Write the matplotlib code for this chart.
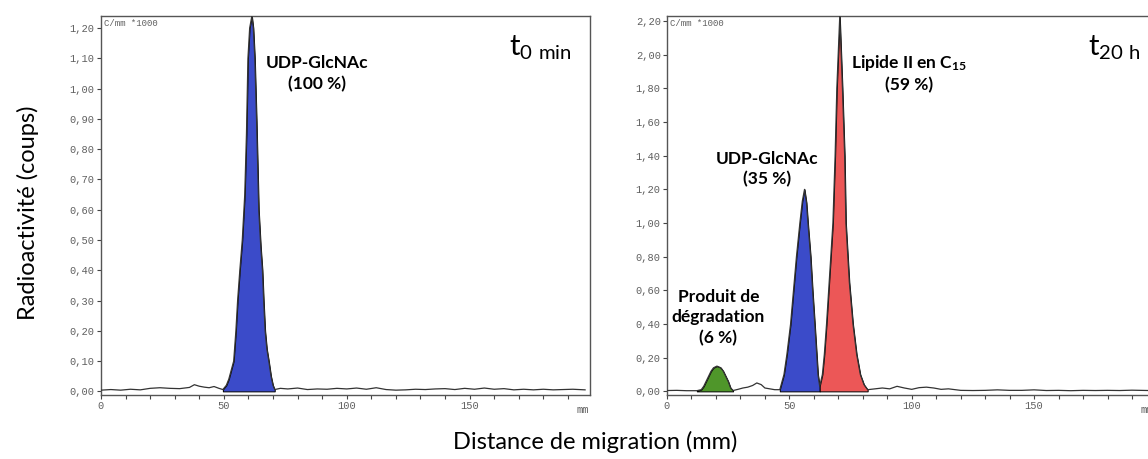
import matplotlib
matplotlib.use("Agg")
import matplotlib.pyplot as plt
import numpy as np
from matplotlib.ticker import FixedLocator, FuncFormatter

plt.rcParams['font.family'] = ['Lato', 'DejaVu Sans']
plt.rcParams['mathtext.fontset'] = 'custom'
plt.rcParams['mathtext.rm'] = 'Lato'
plt.rcParams['mathtext.bf'] = 'Lato:bold'

# ---- t0 min trace (mm, C/mm *1000)
t0_x = [0, 4, 8, 12, 16, 20, 24, 28, 32, 36, 38, 40, 42, 44, 46, 48,
        49.6, 51, 52, 53, 54, 54.9, 55.6, 56.5, 57.5, 58.5, 59.2, 59.8, 60.5, 61.4,
        62.0, 62.6, 63.3, 64.2, 65.0, 65.7, 66.2, 66.8, 67.5, 68.3, 69.2, 70.0, 70.7,
        73, 76, 80, 84, 88, 92, 96, 100, 104, 108, 112, 116, 120, 124, 128, 132,
        136, 140, 144, 148, 152, 156, 160, 164, 168, 172, 176, 180, 184, 188, 192, 197]
t0_y = [0.004, 0.006, 0.004, 0.007, 0.005, 0.010, 0.012, 0.010, 0.009, 0.013, 0.022, 0.017, 0.014, 0.012, 0.016, 0.010,
        0.006, 0.02, 0.04, 0.07, 0.10, 0.20, 0.30, 0.40, 0.50, 0.65, 0.85, 1.10, 1.20, 1.24,
        1.20, 1.10, 0.90, 0.60, 0.48, 0.40, 0.30, 0.20, 0.14, 0.10, 0.05, 0.02, 0.006,
        0.010, 0.008, 0.011, 0.006, 0.008, 0.007, 0.010, 0.008, 0.011, 0.007, 0.012, 0.006, 0.004, 0.005, 0.007, 0.006,
        0.008, 0.009, 0.006, 0.010, 0.007, 0.011, 0.007, 0.009, 0.005, 0.007, 0.005, 0.007, 0.005, 0.006, 0.007, 0.005]
t0_peaks = [(49.6, 70.7, '#3b4bc9')]

# ---- t20 h trace
t20_x = [0, 4, 8, 12.2, 14, 15, 16, 17, 18, 19, 20.4, 22, 23, 24, 25, 26, 27,
         29, 31, 33, 35, 36.7, 38.5, 40, 42, 44,
         46.1, 47.8, 49, 50.5, 51.7, 52.9, 54.3, 55.3, 56.2, 57.0, 57.6, 58.7, 59.5, 60.4, 61.7, 62.4,
         63.5, 64.3, 65.2, 66.5, 67.8, 68.7, 69.4, 70.6, 71.7, 72.6, 73.1, 74.5, 76.0, 77.5, 79.0, 80.5, 82.0,
         85, 88, 91, 94, 97, 100, 103, 106, 109, 112, 115, 120, 125, 130, 135, 140, 145,
         150, 155, 160, 165, 170, 175, 180, 185, 190, 197]
t20_y = [0.005, 0.006, 0.004, 0.004, 0.01, 0.03, 0.06, 0.09, 0.12, 0.14, 0.15, 0.14, 0.12, 0.09, 0.06, 0.02, 0.005,
         0.012, 0.02, 0.025, 0.035, 0.05, 0.04, 0.02, 0.015, 0.01,
         0.01, 0.10, 0.22, 0.40, 0.60, 0.80, 1.00, 1.13, 1.20, 1.12, 1.00, 0.80, 0.60, 0.40, 0.10, 0.03,
         0.10, 0.22, 0.40, 0.70, 1.00, 1.40, 1.80, 2.23, 1.80, 1.40, 1.00, 0.65, 0.40, 0.22, 0.10, 0.04, 0.01,
         0.015, 0.02, 0.015, 0.03, 0.02, 0.012, 0.022, 0.025, 0.02, 0.012, 0.015, 0.006, 0.005, 0.006, 0.009, 0.006, 0.006,
         0.009, 0.005, 0.006, 0.004, 0.006, 0.005, 0.006, 0.005, 0.007, 0.005]
t20_peaks = [(12.2, 27, '#4f962a'), (46.1, 62.4, '#3b4bc9'), (62.4, 82.0, '#ec5757')]

assert len(t0_x) == len(t0_y) and len(t20_x) == len(t20_y)

W, H = 1148, 459
fig = plt.figure(figsize=(W / 100, H / 100), dpi=100)
ax1 = fig.add_axes([101 / W, 1 - 395 / H, 489 / W, 379 / H])
ax2 = fig.add_axes([667 / W, 1 - 395 / H, 487 / W, 379 / H])

mono = 'Liberation Mono'
grey = '#606060'


def draw_trace(ax, xs, ys, peaks, ymax, ystep):
    xs = np.array(xs)
    ys = np.array(ys)
    for a, b, col in peaks:
        m = (xs >= a) & (xs <= b)
        ax.fill_between(xs[m], ys[m], 0, color=col, edgecolor='black', linewidth=0.7, zorder=2)
    ax.plot(xs, ys, color='#333333', lw=0.9, zorder=3)

    ax.set_xlim(0, 199)
    ax.set_ylim(-0.012 * ymax / 1.24, ymax)
    ax.xaxis.set_major_locator(FixedLocator([0, 50, 100, 150]))
    ax.xaxis.set_minor_locator(FixedLocator([v for v in range(10, 200, 10) if v % 50]))
    yt = np.arange(0, ymax + 1e-6, ystep)
    ax.yaxis.set_major_locator(FixedLocator(yt))
    ax.yaxis.set_major_formatter(FuncFormatter(lambda v, p: f"{v:.2f}".replace('.', ',')))
    ax.tick_params(axis='both', which='both', direction='out', length=3, width=0.8,
                   color='#444444', labelsize=7.5, labelcolor=grey, pad=1.5)
    for lab in ax.get_xticklabels() + ax.get_yticklabels():
        lab.set_family(mono)
    for sp in ax.spines.values():
        sp.set_color('#555555')
        sp.set_linewidth(1.0)
    # axis unit written at the end of the x axis, as in the scanner print-out
    ax.text(196, -0.035 * ymax, 'mm', fontsize=7.5, color=grey, family=mono,
            ha='center', va='top')
    ax.text(0.006, 0.992, 'C/mm *1000', transform=ax.transAxes, fontsize=6.5,
            color=grey, family=mono, ha='left', va='top')


draw_trace(ax1, t0_x, t0_y, t0_peaks, 1.24, 0.1)
draw_trace(ax2, t20_x, t20_y, t20_peaks, 2.23, 0.2)

lab_kw = dict(fontsize=12.5, fontweight='bold', ha='center', va='center', linespacing=1.35)
ax1.text(88, 1.05, 'UDP-GlcNAc\n(100 %)', **lab_kw)
ax2.text(99, 1.89, r'Lipide II en $\mathbf{C_{15}}$' + '\n(59 %)', **lab_kw)
ax2.text(41, 1.32, 'UDP-GlcNAc\n(35 %)', **lab_kw)
ax2.text(21, 0.44, 'Produit de\ndégradation\n(6 %)', **lab_kw)

ax1.text(0.835, 0.915, r'$\mathregular{t_{0\ min}}$', transform=ax1.transAxes,
         fontsize=21, ha='left', va='center')
ax2.text(0.865, 0.915, r'$\mathregular{t_{20\ h}}$', transform=ax2.transAxes,
         fontsize=21, ha='left', va='center')

fig.text(28 / W, 1 - 213 / H, 'Radioactivité (coups)', rotation=90,
         fontsize=17, ha='center', va='center')
fig.text(595 / W, 1 - 442 / H, 'Distance de migration (mm)',
         fontsize=17, ha='center', va='center')

fig.savefig('out.png', dpi=100)
